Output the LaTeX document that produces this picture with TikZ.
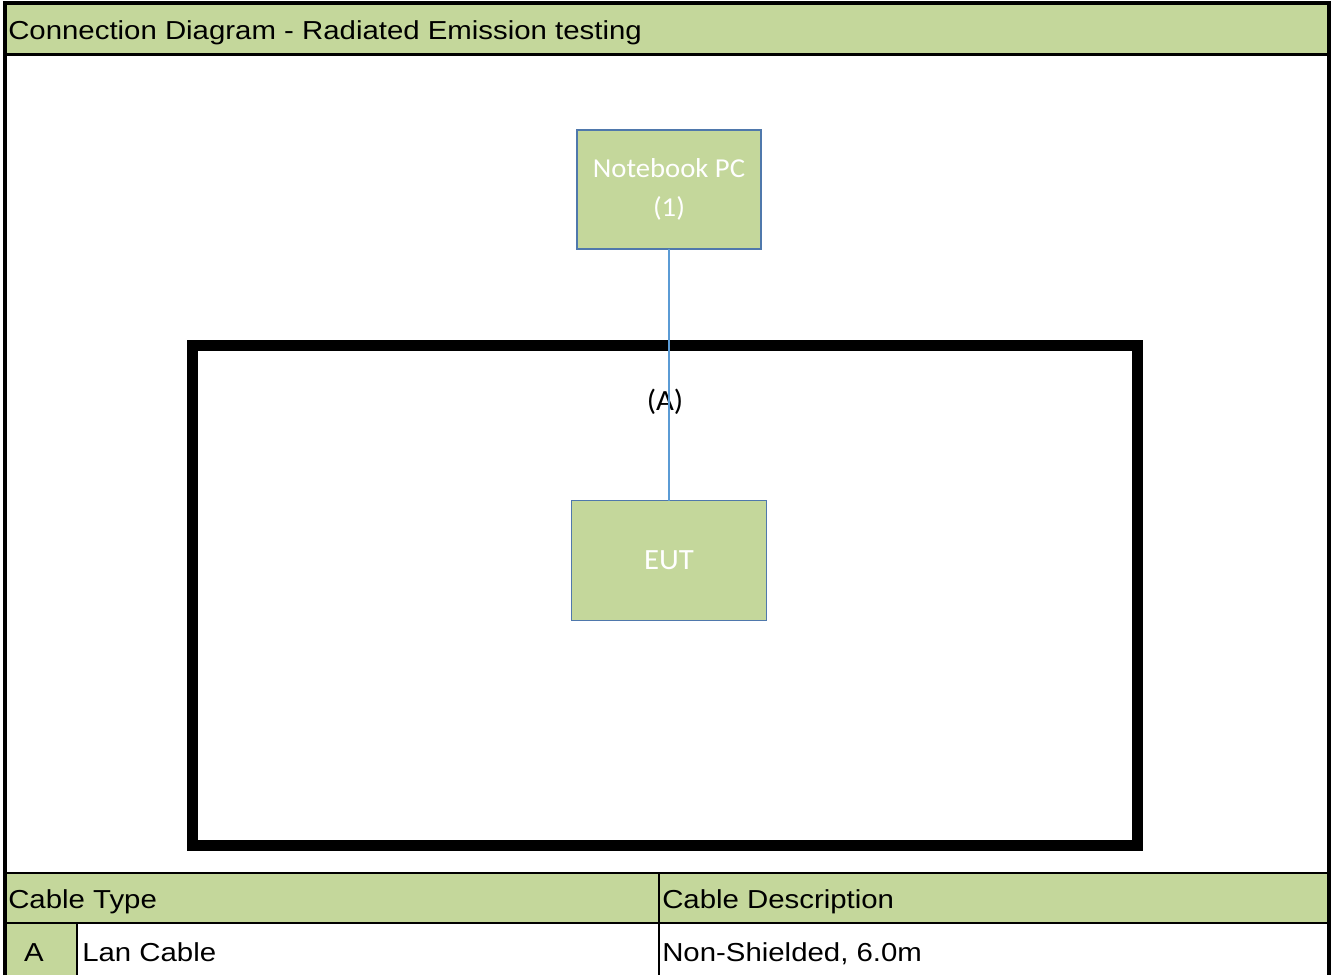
\documentclass[tikz,border=0pt]{standalone}
\usepackage{fontspec}
\setmainfont{Liberation Sans}[FakeStretch=1.13]
\newfontfamily\calibri{Carlito}[FakeStretch=1.05]
\usetikzlibrary{positioning}
\definecolor{cellgreen}{HTML}{C4D79B}
\definecolor{boxblue}{HTML}{4F78AC}
\definecolor{cableblue}{HTML}{5B9BD5}

\begin{document}
\begin{tikzpicture}[x=0.75pt,y=-0.75pt,
  txt/.style={anchor=base west,inner sep=0pt,font=\fontsize{19.5}{23}\selectfont},
  unit/.style={draw=boxblue,line width=1pt,fill=cellgreen,text=white,align=center,
    font=\calibri\fontsize{20.5}{29}\selectfont,inner sep=0pt,outer sep=0pt},
  frame/.style={line width=3pt},
  grid/.style={line width=1.5pt}]

% sheet and green cells
\fill[white] (0,0) rectangle (1336,975);
\fill[cellgreen] (4,4) rectangle (1329,54);
\fill[cellgreen] (4,873) rectangle (1329,922);
\fill[cellgreen] (4,922) rectangle (77,975);

% outer frame, table rules
\draw[frame] (4.5,975) -- (4.5,3.5) -- (1329,3.5) -- (1329,975);
\draw[line width=2.25pt] (4,54.5) -- (1329,54.5);
\draw[grid] (4,873) -- (1329,873) (4,922.5) -- (1329,922.5)
  (77,922.5) -- (77,975) (659,873) -- (659,975);

% test area
\draw[line width=8.25pt] (192.5,345.5) rectangle (1137.5,845.5);

\node[unit,minimum width=138pt,minimum height=89.25pt] (pc) at (669,189.5) {Notebook PC\\(1)};
\node[unit,minimum width=146.25pt,minimum height=90pt,font=\calibri\fontsize{22}{26}\selectfont] (eut) at (669,560.5) {EUT};
\node[inner sep=0pt,font=\calibri\fontsize{22}{26}\selectfont] (cabA) at (665,402) {(A)};
\draw[cableblue,line width=1.1pt] (pc) -- (eut);

% texts
\node[txt] (title) at (8,39.5) {Connection Diagram - Radiated Emission testing};
\node[txt] (ctype) at (8,908) {Cable Type};
\node[txt] (cdesc) at (662,908) {Cable Description};
\node[txt,anchor=base] (cid) at (34,961) {A};
\node[txt] (cname) at (82,961) {Lan Cable};
\node[txt] (cspec) at (662,961) {Non-Shielded, 6.0m};
\end{tikzpicture}
\end{document}
